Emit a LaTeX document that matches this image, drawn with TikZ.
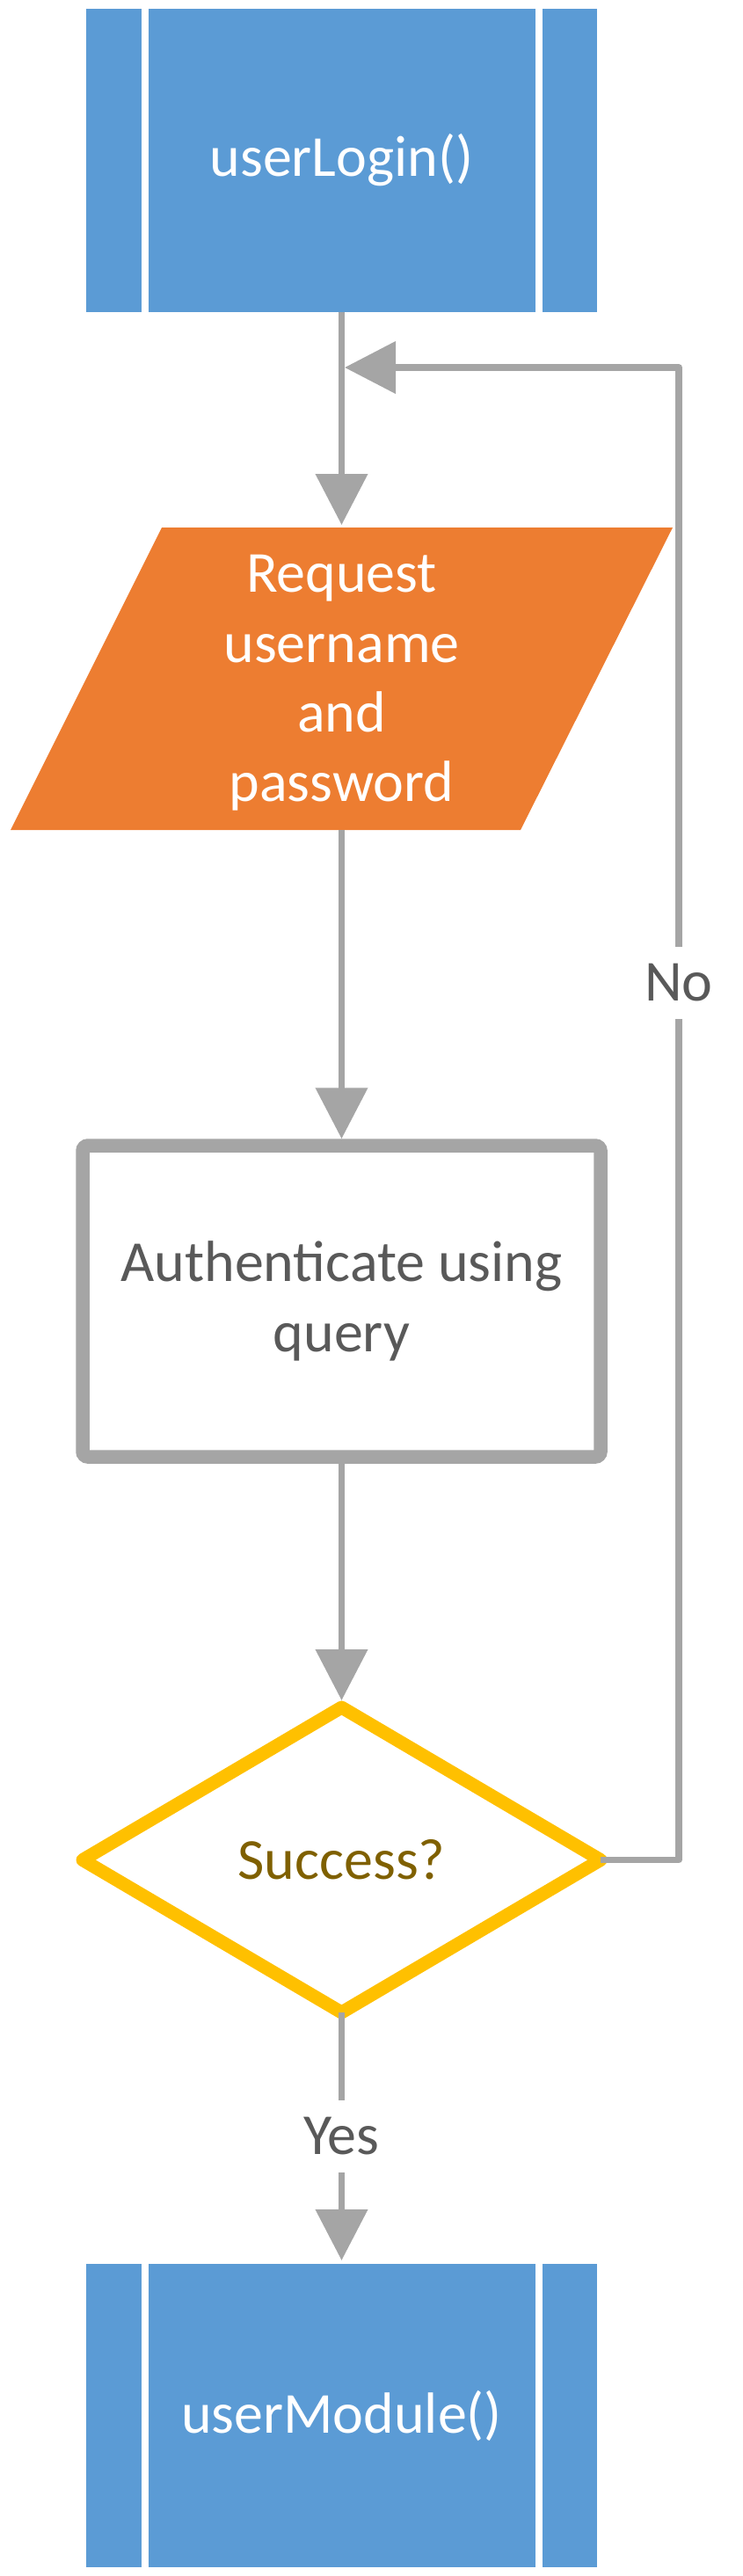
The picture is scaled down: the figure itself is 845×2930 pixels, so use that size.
\documentclass[tikz,border=0pt]{standalone}
\usepackage{fontspec}
\setmainfont{Carlito}
\usetikzlibrary{arrows.meta}
\definecolor{boxblue}{HTML}{5B9BD5}
\definecolor{reqorange}{HTML}{ED7D31}
\definecolor{linegray}{HTML}{A5A5A5}
\definecolor{decyellow}{HTML}{FFC000}
\definecolor{textgray}{HTML}{595959}
\definecolor{decbrown}{HTML}{7F6000}
\begin{document}
\begin{tikzpicture}[x=0.5pt,y=-0.5pt,
  every node/.style={font=\fontsize{33}{39.7}\selectfont},
  subproc/.style={rectangle, fill=boxblue, minimum width=290.5pt, minimum height=172.5pt, inner sep=0pt, outer sep=0pt, text=white},
  sepline/.style={white, line width=4.3pt},
  procbox/.style={rectangle, draw=linegray, line width=7.75pt, rounded corners=3pt, fill=white, minimum width=294.5pt, minimum height=177pt, text=textgray, align=center},
  conn/.style={draw=linegray, line width=3.75pt, line join=round, -{Triangle[length=29pt,width=29pt]}},
  lbl/.style={fill=white, text=textgray, inner sep=10pt}
]
\useasboundingbox (0,0) rectangle (845,2930);

% start subprocess
\node[subproc] (login) at (388.5,182) {userLogin()};
\draw[sepline] ([xshift=33.4pt]login.north west) -- ([xshift=33.4pt]login.south west);
\draw[sepline] ([xshift=-33pt]login.north east) -- ([xshift=-33pt]login.south east);

% input parallelogram
\fill[reqorange] (184,600) -- (765,600) -- (592,944) -- (12,944) -- cycle;
\node[text=white, align=center] (req) at (388.5,777) {Request\\username\\and\\password};
\coordinate (reqtop) at (388.5,597);
\coordinate (reqbot) at (388.5,944);

% process
\node[procbox] (auth) at (388.5,1480) {Authenticate using\\query};

% decision
\draw[decyellow, line width=7.5pt, line join=round, fill=white]
  (388.5,1942) -- (683,2115.5) -- (388.5,2289) -- (94,2115.5) -- cycle;
\node[text=decbrown] (succ) at (388.5,2115.5) {Success?};
\coordinate (dtop) at (388.5,1934);
\coordinate (dright) at (683,2115.5);
\coordinate (dbot) at (388.5,2289);

% end subprocess
\node[subproc] (module) at (388.5,2747.5) {userModule()};
\draw[sepline] ([xshift=33.4pt]module.north west) -- ([xshift=33.4pt]module.south west);
\draw[sepline] ([xshift=-33pt]module.north east) -- ([xshift=-33pt]module.south east);

% connectors
\draw[conn] (login.south) -- (reqtop);
\draw[conn] (reqbot) -- (auth.north);
\draw[conn] (auth.south) -- (dtop);
\draw[conn] (dbot) -- node[lbl] (yes) {Yes} ([yshift=2pt]module.north);
\coordinate (cb) at (772,2115.5);
\coordinate (ct) at (772,418);
\coordinate (ret) at (392,418);
\draw[conn] (dright) -- (cb) -- (ct) -- (ret);
\node[lbl] (no) at (772,1118) {No};
\end{tikzpicture}
\end{document}
